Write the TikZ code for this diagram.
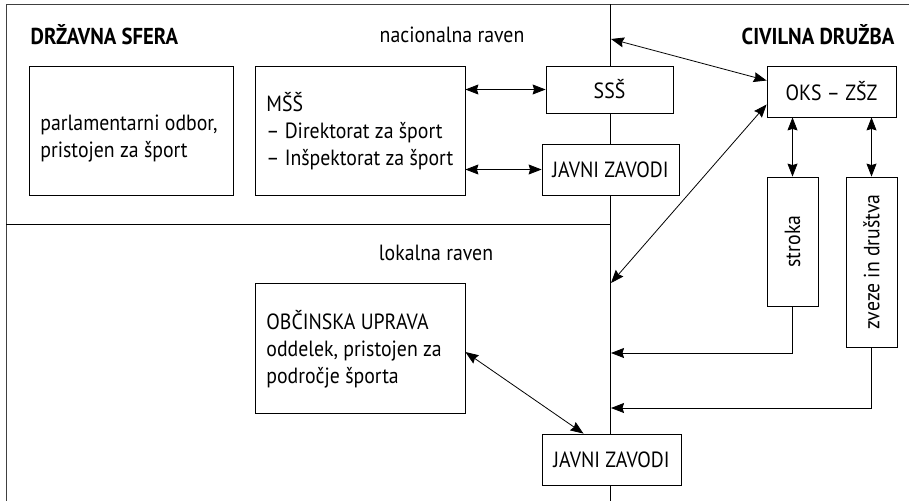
\documentclass[tikz,border=0pt]{standalone}
\usepackage{fontspec}
\setmainfont{PT Sans}[FakeStretch=0.9]
\usetikzlibrary{arrows.meta}
\begin{document}
\begin{tikzpicture}[x=1pt, y=-1pt, line width=0.8pt,
  every node/.style={font=\fontsize{22}{27}\selectfont},
  box/.style={draw, inner sep=0pt},
  boxtxt/.style={align=left, anchor=west, inner sep=0pt},
  head/.style={font=\fontsize{23}{27}\selectfont\bfseries},
  link/.style={{Stealth[length=13pt,width=10pt,inset=1.5pt]}-{Stealth[length=13pt,width=10pt,inset=1.5pt]}},
  feed/.style={-{Stealth[length=13pt,width=10pt,inset=1.5pt]}},
  frame/.style={line width=1pt, black!75}]
  \useasboundingbox (0,0) rectangle (909,501);
  % Frame and dividers
  \draw[frame] (909,4) -- (6,4) -- (6,501);
  \draw (610,4) -- (610,501);
  \draw (6,224) -- (610,224);
  % Headers
  \node[head, anchor=west] (drz) at (27,35) {DRŽAVNA SFERA};
  \node[head, anchor=east] (civ) at (898,35) {CIVILNA DRUŽBA};
  \node (nac) at (452,35) {nacionalna raven};
  \node (lok) at (436,253) {lokalna raven};
  % National level
  \node[box, minimum width=204pt, minimum height=129pt] (par) at (131,130.5) {};
  \node[boxtxt] (partxt) at (40,139) {parlamentarni odbor,\\pristojen za šport};
  \node[box, minimum width=210pt, minimum height=129pt] (mss) at (360,130.5) {};
  \node[boxtxt] (msstxt) at (266,131.5) {MŠŠ\\– Direktorat za šport\\– Inšpektorat za šport};
  \node[box, fill=white, minimum width=127pt, minimum height=47pt] (sss) at (609.5,89.5) {SSŠ};
  \node[box, fill=white, minimum width=137pt, minimum height=51pt] (jz1) at (610.5,169.5) {JAVNI ZAVODI};
  % Civil society
  \node[box, minimum width=129pt, minimum height=51pt] (oks) at (831.5,91.5) {OKS – ZŠZ};
  \node[box, rotate=90, minimum width=129pt, minimum height=51pt] (str) at (792.5,241.5) {stroka};
  \node[box, rotate=90, minimum width=170pt, minimum height=51pt] (zve) at (871.5,262) {zveze in društva};
  % Local level
  \node[box, minimum width=210pt, minimum height=130pt] (obc) at (360,348) {};
  \node[boxtxt] (obctxt) at (266,349) {OBČINSKA UPRAVA\\oddelek, pristojen za\\področje športa};
  \node[box, fill=white, minimum width=139pt, minimum height=51pt] (jz2) at (611.5,459.5) {JAVNI ZAVODI};
  % Points on the divider
  \coordinate (natpt) at (611,39);
  \coordinate (lokpt) at (611,283);
  \coordinate (strpt) at (611,353);
  \coordinate (zvept) at (611,408);
  % Connectors
  \draw[link] (mss.east |- sss.west) -- (sss.west);
  \draw[link] (mss.east |- jz1.west) -- (jz1.west);
  \draw[link] (natpt) -- ([yshift=11pt]oks.west);
  \draw[link] (lokpt) -- ([yshift=-13pt]oks.west);
  \draw[link] (oks.south -| str.east) -- (str.east);
  \draw[link] (oks.south -| zve.east) -- (zve.east);
  \draw[feed] (str.west) |- (strpt);
  \draw[feed] (zve.west) |- (zvept);
  \draw[link] ([yshift=-4pt]obc.east) -- ([xshift=-28pt]jz2.north);
\end{tikzpicture}
\end{document}
